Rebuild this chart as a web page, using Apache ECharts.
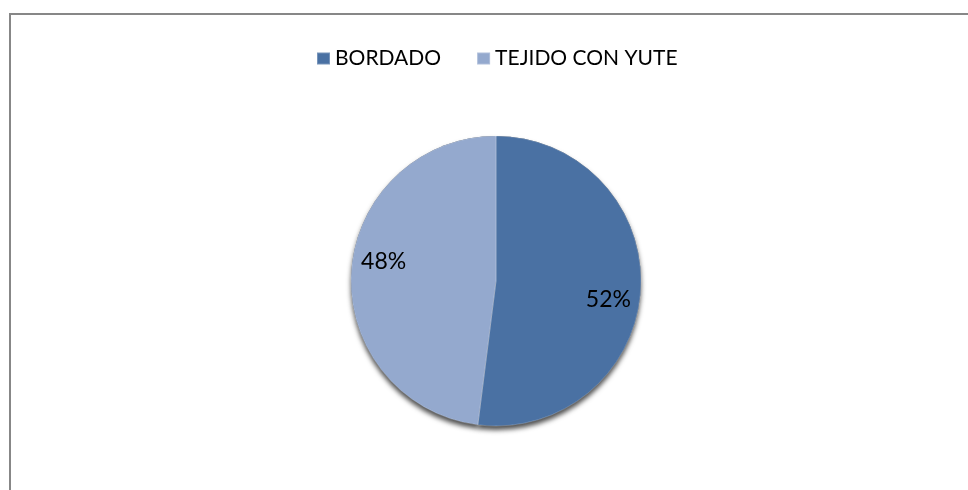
<!DOCTYPE html>
<html>
<head>
<meta charset="utf-8">
<script src="https://cdn.jsdelivr.net/npm/echarts@6/dist/echarts.min.js"></script>
<style>
html,body{margin:0;padding:0;background:#fff;}
#chart{width:968px;height:490px;}
</style>
</head>
<body>
<div id="chart"></div>
<script>
var categories = ['BORDADO', 'TEJIDO CON YUTE'];
var values = [52, 48];
var colors = ['#4a71a3', '#94a9ce'];

var FONT = 'Lato';
var data = categories.map(function (c, i) {
  return { name: c, value: values[i], itemStyle: { color: colors[i] } };
});

var chart = echarts.init(document.getElementById('chart'));
chart.setOption({
  backgroundColor: '#ffffff',
  animation: false,
  graphic: [{
    type: 'rect',
    shape: { x: 10, y: 14, width: 1200, height: 800 },
    style: { fill: 'none', stroke: '#878787', lineWidth: 2 },
    silent: true,
    z: -10
  }],
  legend: {
    data: categories,
    left: 311,
    top: 43,
    itemWidth: 13,
    itemHeight: 12,
    itemGap: 35,
    icon: 'rect',
    textStyle: { fontFamily: FONT, fontSize: 21, color: '#000' }
  },
  series: [
    {
      type: 'pie',
      name: 'main',
      center: [496, 281],
      radius: [0, 145],
      startAngle: 90,
      clockwise: true,
      silent: true,
      z: 3,
      data: data,
      itemStyle: { borderColor: 'rgba(255,255,255,0.25)', borderWidth: 1 },
      label: { show: false },
      labelLine: { show: false }
    },
    {
      type: 'pie',
      name: 'shadow',
      center: [496, 281],
      radius: [0, 145],
      startAngle: 90,
      silent: true,
      legendHoverLink: false,
      z: 1,
      data: categories.map(function (c, i) { return { name: c, value: values[i] }; }),
      itemStyle: {
        color: '#1c2a3e',
        shadowBlur: 5,
        shadowOffsetY: 4,
        shadowColor: 'rgba(0,0,0,0.7)'
      },
      label: { show: false },
      labelLine: { show: false }
    },
    {
      type: 'pie',
      name: 'labels',
      center: [496, 281],
      radius: [76, 146],
      startAngle: 84,
      silent: true,
      legendHoverLink: false,
      z: 5,
      data: categories.map(function (c, i) { return { name: c, value: values[i] }; }),
      itemStyle: { color: 'rgba(0,0,0,0)' },
      label: {
        show: true,
        position: 'inside',
        formatter: function (p) { return Math.round(p.percent) + '%'; },
        fontFamily: FONT,
        fontSize: 23,
        color: '#000'
      },
      labelLine: { show: false }
    }
  ]
});
</script>
</body>
</html>
